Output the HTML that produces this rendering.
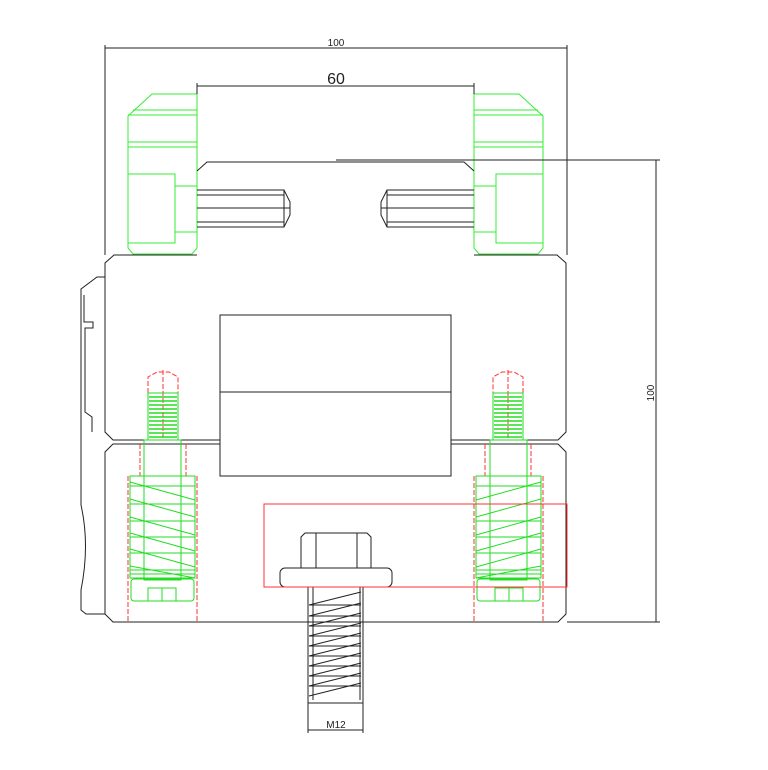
<!DOCTYPE html>
<html><head><style>html,body{margin:0;padding:0;background:#fff}svg{display:block}</style></head>
<body>
<svg width="768" height="770" viewBox="0 0 768 770" xmlns="http://www.w3.org/2000/svg" font-family="Liberation Sans, sans-serif">
<defs>
<g id="half">
  <!-- green clamp -->
  <g fill="none" stroke="#33ee33" stroke-width="1">
    <path d="M197,94 L152,94 L128,116 L128,248 L133,254 L192,254 L197,248 Z"/>
    <line x1="133" y1="110" x2="197" y2="110"/><line x1="128" y1="115" x2="197" y2="115"/>
    <line x1="128" y1="142" x2="197" y2="142"/><line x1="128" y1="147" x2="197" y2="147"/>
    <rect x="128" y="174" width="47" height="69"/>
    <line x1="175" y1="186" x2="197" y2="186"/><line x1="175" y1="232" x2="197" y2="232"/>
  </g>
  <!-- clamp bolt -->
  <g fill="none" stroke="#222" stroke-width="1">
    <path d="M197,190 L284,190 L290,202 L290,215 L284,227 L197,227"/>
    <line x1="197" y1="195" x2="284" y2="195"/><line x1="197" y1="208" x2="290" y2="208"/>
    <line x1="197" y1="222" x2="284" y2="222"/><line x1="284" y1="190" x2="284" y2="227"/>
  </g>
  <!-- body outline half -->
  <g fill="none" stroke="#222" stroke-width="1">
    <path d="M336,162 L207,162 L197,171"/>
    <path d="M197,255 L114,255 L105,263 L105,432 L113,440 L220,440"/>
    <path d="M220,444 L113,444 L105,452 L105,614 L113,622 L336,622"/>
    <line x1="220" y1="444" x2="220" y2="476"/>
  </g>
  <!-- upper screw -->
  <g fill="none" stroke="#ff3333" stroke-width="1" stroke-dasharray="5,2">
    <path d="M148,393 L148,377 L157,372 L169,372 L178,377 L178,393"/>
    <line x1="163" y1="370" x2="163" y2="440"/>
    <line x1="140" y1="444" x2="140" y2="476"/><line x1="186" y1="444" x2="186" y2="476"/>
    <line x1="128" y1="476" x2="128" y2="622"/><line x1="197" y1="476" x2="197" y2="622"/>
  </g>
  <g fill="none" stroke="#22dd22" stroke-width="1">
    <rect x="148" y="393" width="30" height="47"/>
    <path d="M149,397h28M149,401h28M149,405h28M149,409h28M149,413h28M149,417h28M149,421h28M149,425h28M149,429h28M149,433h28M149,437h28" stroke-width="1.6"/>
    <rect x="144" y="440" width="37" height="140"/>
    <rect x="130" y="476" width="65" height="102"/>
    <path d="M130,482 L195,500 M130,486h65 M130,499 L195,517 M130,504h65 M130,517 L195,535 M130,521h65 M130,533 L195,551 M130,537h65 M130,549 L195,567 M130,553h65 M130,566 L195,578 M130,570h65 M130,574h65"/>
    <rect x="131" y="579" width="63" height="22" rx="3"/>
    <rect x="148" y="588" width="28" height="13"/><line x1="162" y1="588" x2="162" y2="601"/>
  </g>
</g>
</defs>

<use href="#half"/>
<use href="#half" transform="translate(671,0) scale(-1,1)"/>

<g fill="none" stroke="#222" stroke-width="1">
  <!-- left bracket -->
  <path d="M105,277 L97,277 L81,289 L81,505 Q90,545 81,590 L81,610 L86,614 L105,614"/>
  <path d="M84,295 L84,322 L93,322 L93,328 L85,328 L85,412 L92,417 L92,432"/>
  <!-- center block -->
  <rect x="220" y="315" width="231" height="161"/>
  <line x1="220" y1="392" x2="451" y2="392"/>
  <line x1="220" y1="440" x2="220" y2="476"/><line x1="451" y1="440" x2="451" y2="476"/>
  <!-- dimensions -->
  <line x1="105" y1="45" x2="105" y2="255"/><line x1="567" y1="45" x2="567" y2="255"/>
  <line x1="105" y1="48" x2="567" y2="48"/>
  <line x1="197" y1="83" x2="197" y2="94"/><line x1="474" y1="83" x2="474" y2="94"/>
  <line x1="197" y1="86" x2="474" y2="86"/>
  <line x1="336" y1="160" x2="660" y2="160"/>
  <line x1="567" y1="622" x2="660" y2="622"/>
  <line x1="656" y1="160" x2="656" y2="622"/>
  <!-- bolt -->
  <path d="M301,568 L301,537 L305,533 L367,533 L371,537 L371,568"/>
  <line x1="316" y1="533" x2="316" y2="568"/><line x1="357" y1="533" x2="357" y2="568"/>
  <rect x="280" y="568" width="112" height="19" rx="5"/>
  <path d="M308,587 L308,703 L363,703 L363,587"/>
  <path d="M313,587 L313,700 M360,587 L360,700"/>
  <path d="M309,605 L361,592 M309,605h52 M309,616 L361,603 M309,616h52 M309,626 L361,613 M309,626h52 M309,636 L361,623 M309,636h52 M309,646 L361,633 M309,646h52 M309,656 L361,643 M309,656h52 M309,666 L361,653 M309,666h52 M309,676 L361,663 M309,676h52 M309,686 L361,673 M309,686h52 M309,696 L361,683"/>
  <line x1="308" y1="703" x2="308" y2="733"/><line x1="363" y1="703" x2="363" y2="733"/>
  <line x1="308" y1="730" x2="363" y2="730"/>
</g>
<rect x="264" y="504" width="303" height="83" fill="none" stroke="#ff3333" stroke-width="1"/>

<g fill="#222" font-size="10" text-anchor="middle">
  <text x="336" y="46">100</text>
  <text x="336" y="84" font-size="16">60</text>
  <text x="336" y="728">M12</text>
  <text x="0" y="0" transform="translate(654,393) rotate(-90)">100</text>
</g>
</svg>
</body></html>
